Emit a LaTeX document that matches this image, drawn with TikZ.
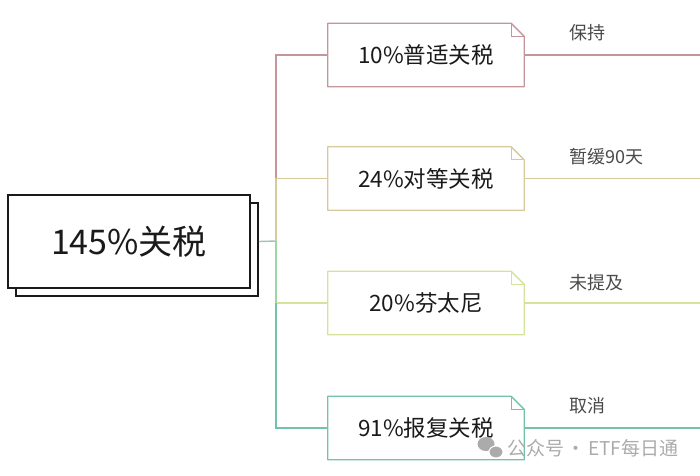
\documentclass[tikz,border=0pt]{standalone}
\usepackage{fontspec}
\setmainfont{Noto Sans CJK SC}
\usetikzlibrary{positioning}
\definecolor{Rose}{HTML}{C4969C}
\definecolor{Sand}{HTML}{D6C99A}
\definecolor{Lime}{HTML}{D4E39C}
\definecolor{Mint}{HTML}{9CD6A6}
\definecolor{Teal}{HTML}{72C2AC}
\definecolor{Ink}{HTML}{1A1A1A}
\definecolor{Note}{HTML}{4A4A4A}
\definecolor{Mark}{HTML}{ABABAB}

% outline of a note sheet with its top right corner folded
\newcommand{\foldframe}[2]{%
  \draw[#2,line width=1.3pt,line join=round] (#1.south west) -- (#1.north west) -- ([xshift=-13pt]#1.north east) -- ([yshift=-13pt]#1.north east) -- (#1.south east) -- cycle;
  \draw[#2,line width=1pt] ([xshift=-13pt]#1.north east) |- ([yshift=-13pt]#1.north east);}

\begin{document}
\begin{tikzpicture}[x=1pt,y=-1pt,
    leaf/.style={minimum width=196pt,minimum height=63pt,inner sep=0pt,font=\fontsize{22.5}{26}\selectfont,text=Ink},
    tag/.style={anchor=west,font=\fontsize{18}{21}\selectfont,text=Note},
    link/.style={line width=1.4pt}
  ]
    \useasboundingbox (0,0) rectangle (700,475);
    % root sheet and the one lying under it
    \draw[Ink,line width=1.6pt,fill=white] (16,203) rectangle (258,296);
    \node[draw=Ink,line width=1.6pt,fill=white,minimum width=242pt,minimum height=93pt,font=\fontsize{34}{40}\selectfont,text=Ink] (root) at (129,241.5) {145\%关税};

    \node[leaf] (tariff10) at (426,55) {10\%普适关税};
    \foldframe{tariff10}{Rose}
    \node[leaf] (tariff24) at (426,178.5) {24\%对等关税};
    \foldframe{tariff24}{Sand}
    \node[leaf] (tariff20) at (426,303) {20\%芬太尼};
    \foldframe{tariff20}{Lime}
    \node[leaf] (tariff91) at (426,428) {91\%报复关税};
    \foldframe{tariff91}{Teal}

    % trunk
    \coordinate (fork) at (276,241);
    \draw[link,Teal!60!gray!70] ([xshift=8pt]root.east) -- (fork);
    \draw[link,Rose] (tariff10.west) -| (fork |- tariff24.west);
    \draw[link,Sand] (tariff24.west) -| (fork);
    \draw[link,Mint] (fork) -- (fork |- tariff20.west);
    \draw[link,Lime] (tariff20.west) -- (fork |- tariff20.west);
    \draw[link,Teal] (fork |- tariff20.west) |- (tariff91.west);

    % outcomes
    \coordinate (end10) at (700,55);
    \coordinate (end24) at (700,178.5);
    \coordinate (end20) at (700,303);
    \coordinate (end91) at (700,428);
    \draw[link,Rose] (tariff10.east) -- (end10);
    \draw[link,Sand] (tariff24.east) -- (end24);
    \draw[link,Lime] (tariff20.east) -- (end20);
    \draw[link,Teal] (tariff91.east) -- (end91);
    \node[tag] (keep) at (566,33) {保持};
    \node[tag] (pause) at (566,157) {暂缓90天};
    \node[tag] (silent) at (566,283) {未提及};
    \node[tag] (cancel) at (566,406) {取消};

    % watermark
    \fill[Mark] (486,444) ellipse (8.5 and 7);
    \fill[Mark,draw=white,line width=1pt] (496,452) ellipse (7 and 6);
    \node[anchor=west,font=\fontsize{19}{22}\selectfont,text=Mark] (mark) at (504,448) {公众号\hspace{.12em}·\hspace{.12em}ETF每日通};
\end{tikzpicture}
\end{document}
